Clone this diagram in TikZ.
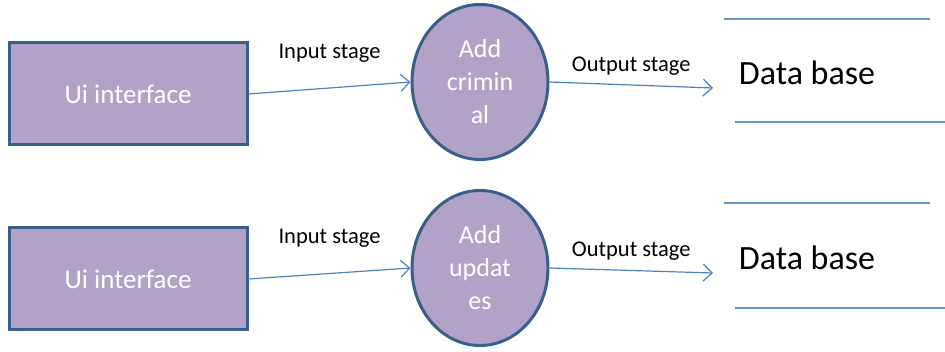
\documentclass[tikz,border=0pt]{standalone}
\usepackage{fontspec}
\setmainfont{Carlito}
\usepackage{tikz}
\usetikzlibrary{positioning,calc,shapes.geometric,arrows.meta}

\definecolor{boxfill}{HTML}{B3A2C7}
\definecolor{boxline}{HTML}{3A5F8B}
\definecolor{flowline}{HTML}{4F81BD}

\begin{document}
\begin{tikzpicture}[x=1pt,y=-1pt,on grid,
    uibox/.style={draw=boxline,fill=boxfill,line width=3pt,minimum width=238pt,minimum height=102pt,
      text=white,font=\fontsize{27}{30}\selectfont},
    proc/.style={ellipse,draw=boxline,fill=boxfill,line width=3pt,minimum width=136pt,minimum height=155pt,
      inner sep=0pt,align=center,text=white,font=\fontsize{26}{33}\selectfont},
    store/.style={font=\fontsize{34}{38}\selectfont},
    flow/.style={draw=flowline,line width=1.2pt,-{Straight Barb[length=9pt,width=17pt]}},
    stage/.style={font=\fontsize{22.5}{26}\selectfont},
    storeline/.style={draw=flowline!85,line width=1.2pt}]

    \useasboundingbox (0,0) rectangle (945,352);

    % first row
    \node[uibox] (ui1) at (128,94) {Ui interface};
    \node[proc] (add1) [right=352pt of ui1, yshift=12pt] {Add\\crimin\\al};
    \node[store] (db1) [right=327pt of add1, yshift=9pt] {Data base};
    \coordinate (in1) at ($(db1)+(-94,15)$);

    % second row
    \node[uibox] (ui2) [below=185pt of ui1] {Ui interface};
    \node[proc] (add2) [below=186pt of add1] {Add\\updat\\es};
    \node[store] (db2) [below=185pt of db1] {Data base};
    \coordinate (in2) at ($(db2)+(-94,15)$);

    \path
    (ui1.east) edge[flow] node[stage, midway, above=22pt] (lin1) {Input stage} (add1.west)
    (add1.east) edge[flow] node[stage, midway, above=6pt] (lout1) {Output stage} (in1)
    (ui2.east) edge[flow] node[stage, midway, above=22pt] (lin2) {Input stage} (add2.west)
    (add2.east) edge[flow] node[stage, midway, above=6pt] (lout2) {Output stage} (in2);

    % data store lines
    \draw[storeline] ($(db1)+(-83,-54)$) -- ($(db1)+(123,-54)$);
    \draw[storeline] ($(db1)+(-72,49)$) -- ($(db1)+(138,49)$);
    \draw[storeline] ($(db2)+(-83,-55)$) -- ($(db2)+(123,-55)$);
    \draw[storeline] ($(db2)+(-72,50)$) -- ($(db2)+(138,50)$);
\end{tikzpicture}
\end{document}
